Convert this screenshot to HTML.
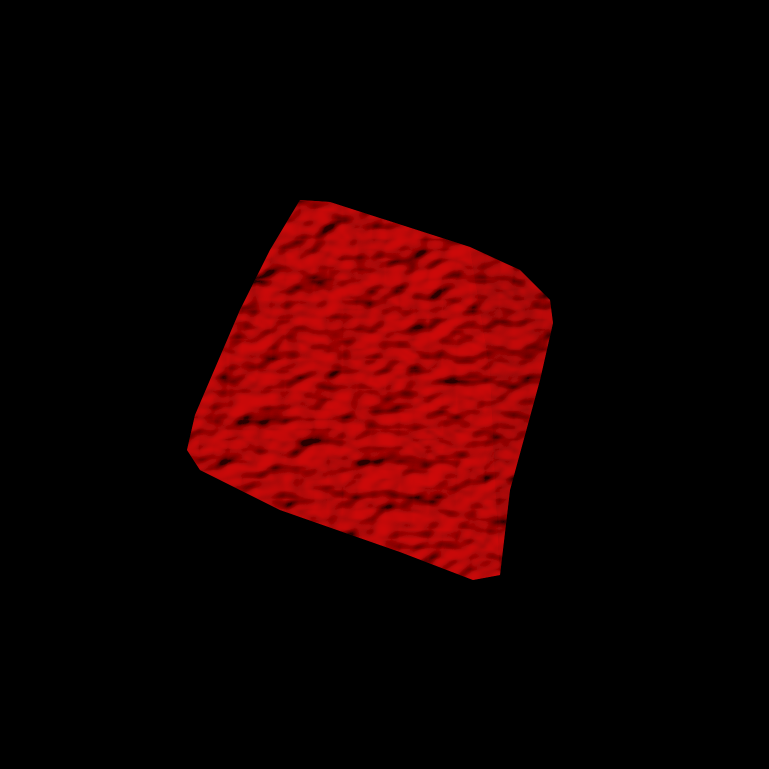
<!DOCTYPE html>
<html><head><meta charset="utf-8"><style>
html,body{margin:0;padding:0;background:#000;width:769px;height:769px;overflow:hidden}
</style></head><body>
<svg width="769" height="769" viewBox="0 0 769 769" xmlns="http://www.w3.org/2000/svg">
<defs>
<filter id="bumpy" x="0" y="0" width="100%" height="100%">
<feTurbulence type="fractalNoise" baseFrequency="0.035 0.05" numOctaves="2" seed="3" result="n"/>
<feDiffuseLighting in="n" surfaceScale="9" lighting-color="#d80808" diffuseConstant="1.0" result="l">
<feDistantLight azimuth="235" elevation="40"/>
</feDiffuseLighting>
<feComposite in="l" in2="SourceGraphic" operator="in"/>
</filter>
</defs>
<rect width="769" height="769" fill="#000"/>
<g>
<polygon points="300,200 330,202 470,247 490,370 500,575 473,580 400,552 280,510 200,470 187,450 195,415 240,310 270,250" fill="#b00000"/>
<polygon points="470,247 520,270 550,300 553,323 540,380 510,490 500,575 490,370" fill="#8c0000"/>
<polygon points="300,200 330,202 470,247 520,270 550,300 553,323 540,380 510,490 500,575 473,580 400,552 280,510 200,470 187,450 195,415 240,310 270,250" fill="#c00" filter="url(#bumpy)" opacity="0.75"/>
</g>
</svg>
</body></html>
